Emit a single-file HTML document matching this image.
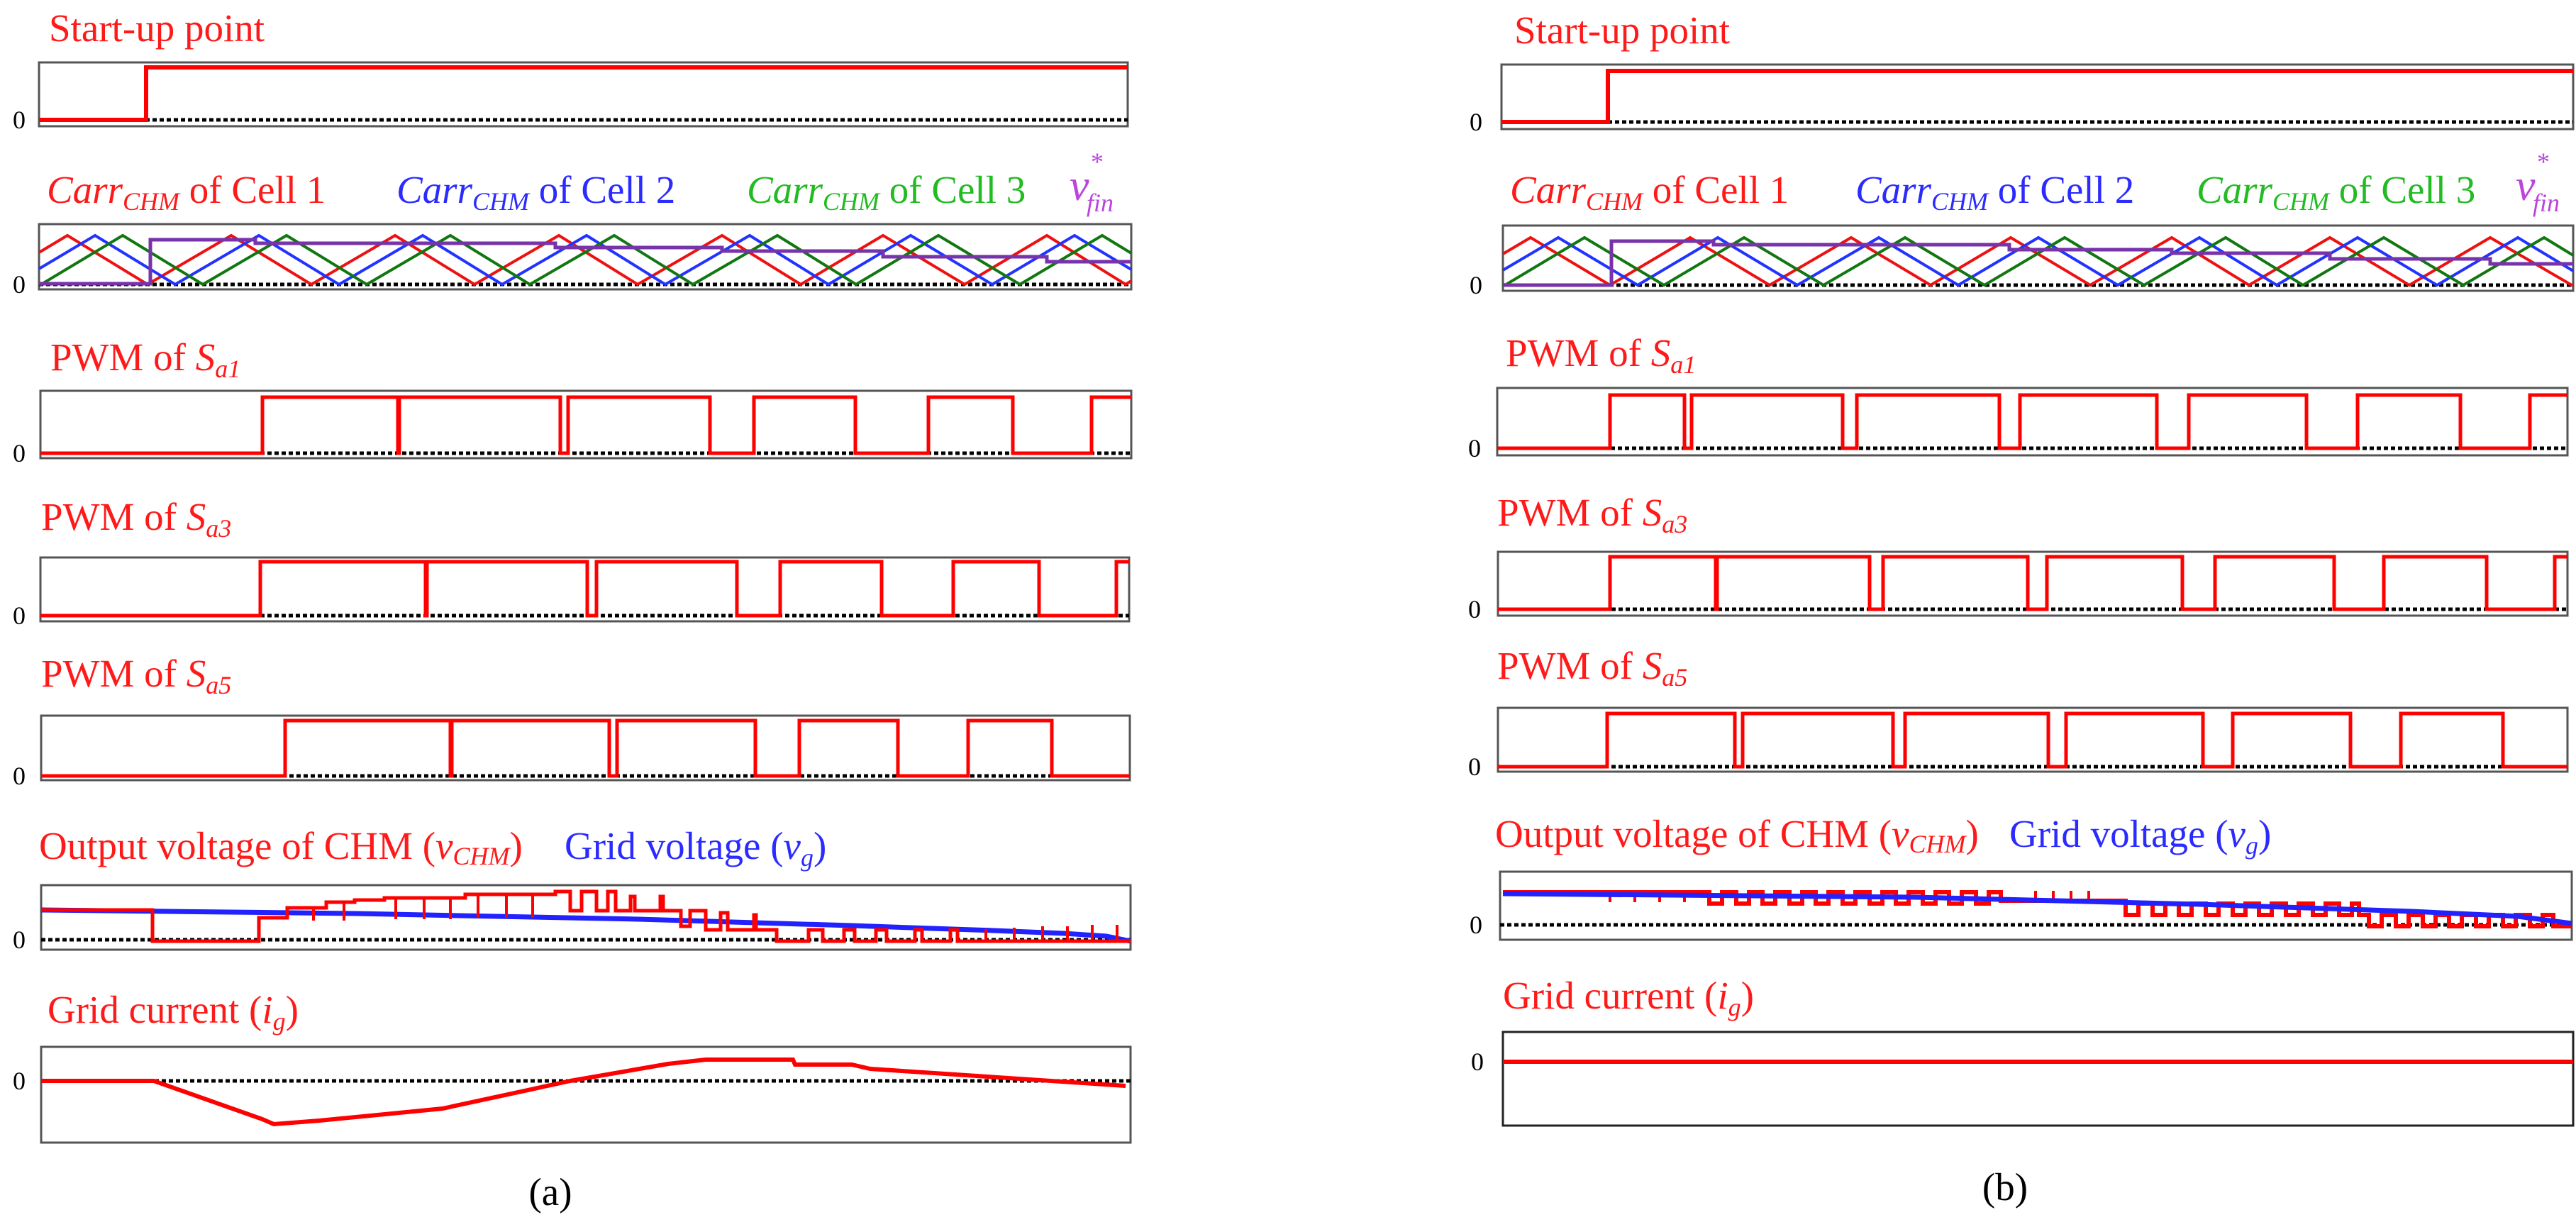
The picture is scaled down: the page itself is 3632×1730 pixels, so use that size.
<!DOCTYPE html>
<html><head><meta charset="utf-8"><style>
html,body{margin:0;padding:0;background:#fff;}
svg{display:block;}
text{font-family:"Liberation Serif",serif;}
</style></head><body>
<svg width="3632" height="1730" viewBox="0 0 3632 1730" xmlns="http://www.w3.org/2000/svg">
<g font-size="55" fill="#ff1a1a">
<text x="69" y="58">Start-up point</text>
<text x="66" y="286"><tspan font-style="italic">Carr</tspan><tspan font-style="italic" font-size="36" dy="10">CHM</tspan><tspan dy="-10"> of Cell 1</tspan></text>
<text x="559" y="286" fill="#2b2bff"><tspan font-style="italic">Carr</tspan><tspan font-style="italic" font-size="36" dy="10">CHM</tspan><tspan dy="-10"> of Cell 2</tspan></text>
<text x="1053" y="286" fill="#22bb22"><tspan font-style="italic">Carr</tspan><tspan font-style="italic" font-size="36" dy="10">CHM</tspan><tspan dy="-10"> of Cell 3</tspan></text>
<text x="1508" y="282" fill="#bb44dd" font-style="italic" font-size="62">v</text>
<text x="1538" y="240" fill="#bb44dd" font-size="36">*</text>
<text x="1532" y="298" fill="#bb44dd" font-style="italic" font-size="36">fin</text>
<text x="71" y="522">PWM of <tspan font-style="italic">S</tspan><tspan font-style="italic" font-size="36" dy="10">a1</tspan></text>
<text x="58" y="747">PWM of <tspan font-style="italic">S</tspan><tspan font-style="italic" font-size="36" dy="10">a3</tspan></text>
<text x="58" y="968">PWM of <tspan font-style="italic">S</tspan><tspan font-style="italic" font-size="36" dy="10">a5</tspan></text>
<text x="55" y="1211">Output voltage of CHM (<tspan font-style="italic">v</tspan><tspan font-style="italic" font-size="36" dy="8">CHM</tspan><tspan dy="-8">)</tspan></text>
<text x="796" y="1211" fill="#2b2bff">Grid voltage (<tspan font-style="italic">v</tspan><tspan font-style="italic" font-size="36" dy="10">g</tspan><tspan dy="-10">)</tspan></text>
<text x="67" y="1442">Grid current (<tspan font-style="italic">i</tspan><tspan font-style="italic" font-size="36" dy="10">g</tspan><tspan dy="-10">)</tspan></text>
<text x="2135" y="61">Start-up point</text>
<text x="2129" y="286"><tspan font-style="italic">Carr</tspan><tspan font-style="italic" font-size="36" dy="10">CHM</tspan><tspan dy="-10"> of Cell 1</tspan></text>
<text x="2616" y="286" fill="#2b2bff"><tspan font-style="italic">Carr</tspan><tspan font-style="italic" font-size="36" dy="10">CHM</tspan><tspan dy="-10"> of Cell 2</tspan></text>
<text x="3097" y="286" fill="#22bb22"><tspan font-style="italic">Carr</tspan><tspan font-style="italic" font-size="36" dy="10">CHM</tspan><tspan dy="-10"> of Cell 3</tspan></text>
<text x="3547" y="282" fill="#bb44dd" font-style="italic" font-size="62">v</text>
<text x="3577" y="240" fill="#bb44dd" font-size="36">*</text>
<text x="3571" y="298" fill="#bb44dd" font-style="italic" font-size="36">fin</text>
<text x="2123" y="516">PWM of <tspan font-style="italic">S</tspan><tspan font-style="italic" font-size="36" dy="10">a1</tspan></text>
<text x="2111" y="741">PWM of <tspan font-style="italic">S</tspan><tspan font-style="italic" font-size="36" dy="10">a3</tspan></text>
<text x="2111" y="957">PWM of <tspan font-style="italic">S</tspan><tspan font-style="italic" font-size="36" dy="10">a5</tspan></text>
<text x="2108" y="1194">Output voltage of CHM (<tspan font-style="italic">v</tspan><tspan font-style="italic" font-size="36" dy="8">CHM</tspan><tspan dy="-8">)</tspan></text>
<text x="2833" y="1194" fill="#2b2bff">Grid voltage (<tspan font-style="italic">v</tspan><tspan font-style="italic" font-size="36" dy="10">g</tspan><tspan dy="-10">)</tspan></text>
<text x="2119" y="1422">Grid current (<tspan font-style="italic">i</tspan><tspan font-style="italic" font-size="36" dy="10">g</tspan><tspan dy="-10">)</tspan></text>
</g>
<g font-size="55" fill="#000" text-anchor="middle">
<text x="776" y="1699">(a)</text>
<text x="2827" y="1692">(b)</text>
</g>
<g font-size="36" fill="#000">
<text x="18" y="181">0</text><text x="18" y="413">0</text><text x="18" y="651">0</text><text x="18" y="880">0</text><text x="18" y="1106">0</text><text x="18" y="1337">0</text><text x="18" y="1536">0</text>
<text x="2072" y="184">0</text><text x="2072" y="414">0</text><text x="2070" y="644">0</text><text x="2070" y="871">0</text><text x="2070" y="1093">0</text><text x="2072" y="1316">0</text><text x="2074" y="1509">0</text>
</g>
<g fill="none" stroke="#555" stroke-width="3">
<rect x="55" y="88" width="1535" height="90"/>
<rect x="55" y="316" width="1540" height="92"/>
<rect x="57" y="551" width="1538" height="95"/>
<rect x="57" y="786" width="1535" height="90"/>
<rect x="58" y="1009" width="1535" height="91"/>
<rect x="58" y="1248" width="1536" height="91"/>
<rect x="58" y="1476" width="1536" height="135"/>
<rect x="2117" y="91" width="1511" height="91"/>
<rect x="2119" y="318" width="1509" height="92"/>
<rect x="2111" y="547" width="1509" height="95"/>
<rect x="2112" y="778" width="1508" height="90"/>
<rect x="2112" y="998" width="1508" height="90"/>
<rect x="2115" y="1229" width="1511" height="96"/>
<rect x="2119" y="1455" width="1509" height="132" stroke="#222"/>
</g>
<g stroke="#000" stroke-width="5" stroke-dasharray="6 4">
<line x1="55" y1="169" x2="1590" y2="169"/><line x1="55" y1="401" x2="1595" y2="401"/><line x1="57" y1="639" x2="1595" y2="639"/><line x1="57" y1="868" x2="1592" y2="868"/><line x1="58" y1="1094" x2="1593" y2="1094"/><line x1="58" y1="1325" x2="1594" y2="1325"/><line x1="58" y1="1524" x2="1594" y2="1524"/>
<line x1="2117" y1="172" x2="3628" y2="172"/><line x1="2119" y1="402" x2="3628" y2="402"/><line x1="2111" y1="632" x2="3620" y2="632"/><line x1="2112" y1="859" x2="3620" y2="859"/><line x1="2112" y1="1081" x2="3620" y2="1081"/><line x1="2115" y1="1304" x2="3626" y2="1304"/>
</g>
<g fill="none" stroke-linejoin="miter">
<polyline stroke="#ff0000" stroke-width="6" points="55,169 206,169 206,95 1590,95"/>
<polyline stroke="#ee1111" stroke-width="4" points="55,356 95,332 208,401 326,332 439,401 557,332 669,401 788,332 899,401 1018,332 1129,401 1245,332 1360,401 1476,332 1587,401 1595,396"/>
<polyline stroke="#2233ff" stroke-width="4" points="55,379 134,332 247,401 365,332 478,401 596,332 708,401 827,332 938,401 1057,332 1168,401 1284,332 1399,401 1515,332 1595,380"/>
<polyline stroke="#117711" stroke-width="4" points="55,399 58,401 173,332 286,401 404,332 517,401 635,332 747,401 866,332 977,401 1096,332 1207,401 1323,332 1438,401 1554,332 1595,357"/>
<polyline stroke="#7733aa" stroke-width="5" points="55,400 212,400 212,338 360,338 360,343 783,343 783,349 1018,349 1018,354 1245,354 1245,362 1476,362 1476,369 1595,369"/>
<polyline stroke="#ff0000" stroke-width="5" points="57,639 370,639 370,560 561,560 561,639 563,639 563,560 790,560 790,639 801,639 801,560 1001,560 1001,639 1063,639 1063,560 1206,560 1206,639 1309,639 1309,560 1428,560 1428,639 1539,639 1539,560 1595,560"/>
<polyline stroke="#ff0000" stroke-width="5" points="57,868 367,868 367,792 600,792 600,868 602,868 602,792 828,792 828,868 841,868 841,792 1039,792 1039,868 1100,868 1100,792 1243,792 1243,868 1344,868 1344,792 1465,792 1465,868 1574,868 1574,792 1592,792"/>
<polyline stroke="#ff0000" stroke-width="5" points="58,1094 402,1094 402,1016 635,1016 635,1094 637,1094 637,1016 859,1016 859,1094 870,1094 870,1016 1065,1016 1065,1094 1127,1094 1127,1016 1266,1016 1266,1094 1365,1094 1365,1016 1483,1016 1483,1094 1593,1094"/>
<polyline stroke="#2222ff" stroke-width="7" points="58,1283 500,1288 900,1296 1200,1305 1400,1312 1500,1316 1560,1320 1594,1327"/>
<polyline stroke="#ff0000" stroke-width="5" points="58,1283 215,1283 215,1327 365,1327 365,1294 405,1294 405,1280 460,1280 460,1272 500,1272 500,1269 542,1269 542,1266 656,1266 656,1261 783,1261 783,1257 804,1257 804,1284 820,1284 820,1257 841,1257 841,1284 857,1284 857,1257 868,1257 868,1284 889,1284 889,1264 895,1264 895,1284 931,1284 931,1264 935,1264 935,1284 960,1284 960,1306 973,1306 973,1284 995,1284 995,1311 1016,1311 1016,1287 1026,1287 1026,1311 1063,1311 1063,1290 1066,1290 1066,1311 1095,1311 1095,1327 1140,1327 1140,1311 1160,1311 1160,1327 1190,1327 1190,1311 1205,1311 1205,1327 1235,1327 1235,1311 1250,1311 1250,1327 1290,1327 1290,1311 1300,1311 1300,1327 1340,1327 1340,1311 1350,1311 1350,1327 1594,1327"/>
<g stroke="#ff0000" stroke-width="4">
<line x1="442" y1="1280" x2="442" y2="1298"/><line x1="485" y1="1272" x2="485" y2="1298"/><line x1="558" y1="1266" x2="558" y2="1296"/><line x1="598" y1="1266" x2="598" y2="1296"/><line x1="635" y1="1266" x2="635" y2="1296"/><line x1="674" y1="1261" x2="674" y2="1294"/><line x1="714" y1="1261" x2="714" y2="1294"/><line x1="751" y1="1261" x2="751" y2="1294"/>
<line x1="1390" y1="1327" x2="1390" y2="1310"/><line x1="1430" y1="1327" x2="1430" y2="1308"/><line x1="1470" y1="1327" x2="1470" y2="1306"/><line x1="1505" y1="1327" x2="1505" y2="1306"/><line x1="1540" y1="1327" x2="1540" y2="1304"/><line x1="1575" y1="1327" x2="1575" y2="1304"/>
</g>
<polyline stroke="#ff0000" stroke-width="6" points="58,1524 217,1524 370,1578 386,1585 450,1580 624,1563 804,1524 942,1500 995,1494 1118,1494 1121,1501 1201,1501 1227,1507 1587,1531"/>
</g>
<g fill="none">
<polyline stroke="#ff0000" stroke-width="6" points="2117,172 2267,172 2267,100 3628,100"/>
<polyline stroke="#ee1111" stroke-width="4" points="2119,358 2158,335 2270,402 2383,335 2495,402 2610,335 2722,402 2835,335 2947,402 3062,335 3171,402 3285,335 3397,402 3511,335 3626,402 3628,401"/>
<polyline stroke="#2233ff" stroke-width="4" points="2119,381 2197,335 2309,402 2422,335 2534,402 2649,335 2761,402 2874,335 2986,402 3101,335 3210,402 3324,335 3436,402 3550,335 3628,382"/>
<polyline stroke="#117711" stroke-width="4" points="2119,400 2122,402 2234,335 2346,402 2459,335 2571,402 2686,335 2798,402 2911,335 3023,402 3138,335 3247,402 3361,335 3473,402 3587,335 3628,360"/>
<polyline stroke="#7733aa" stroke-width="5" points="2119,402 2272,402 2272,340 2416,340 2416,345 2833,345 2833,352 3062,352 3062,357 3285,357 3285,365 3511,365 3511,372 3628,372"/>
<polyline stroke="#ff0000" stroke-width="5" points="2111,632 2270,632 2270,557 2375,557 2375,632 2385,632 2385,557 2598,557 2598,632 2618,632 2618,557 2819,557 2819,632 2848,632 2848,557 3041,557 3041,632 3086,632 3086,557 3252,557 3252,632 3324,632 3324,557 3469,557 3469,632 3567,632 3567,557 3620,557"/>
<polyline stroke="#ff0000" stroke-width="5" points="2112,859 2270,859 2270,785 2419,785 2419,859 2421,859 2421,785 2636,785 2636,859 2655,859 2655,785 2859,785 2859,859 2886,859 2886,785 3077,785 3077,859 3123,859 3123,785 3291,785 3291,859 3361,859 3361,785 3506,785 3506,859 3602,859 3602,785 3620,785"/>
<polyline stroke="#ff0000" stroke-width="5" points="2112,1081 2266,1081 2266,1006 2446,1006 2446,1081 2457,1081 2457,1006 2669,1006 2669,1081 2686,1081 2686,1006 2888,1006 2888,1081 2913,1081 2913,1006 3106,1006 3106,1081 3148,1081 3148,1006 3314,1006 3314,1081 3385,1081 3385,1006 3529,1006 3529,1081 3620,1081"/>
<polyline stroke="#ff0000" stroke-width="6" points="2119,1258 2410,1258 2410,1274 2428,1274 2428,1258 2448,1258 2448,1274 2466,1274 2466,1258 2485,1258 2485,1274 2503,1274 2503,1258 2523,1258 2523,1274 2541,1274 2541,1258 2560,1258 2560,1274 2578,1274 2578,1258 2598,1258 2598,1274 2616,1274 2616,1258 2636,1258 2636,1274 2654,1274 2654,1258 2673,1258 2673,1274 2691,1274 2691,1258 2711,1258 2711,1274 2729,1274 2729,1258 2748,1258 2748,1274 2766,1274 2766,1258 2786,1258 2786,1274 2804,1274 2804,1258 2821,1258 2821,1270 2997,1270 2997,1290 3015,1290 3015,1274 3035,1274 3035,1290 3053,1290 3053,1274 3072,1274 3072,1290 3090,1290 3090,1274 3110,1274 3110,1290 3128,1290 3128,1274 3148,1274 3148,1290 3166,1290 3166,1274 3185,1274 3185,1290 3203,1290 3203,1274 3223,1274 3223,1290 3241,1290 3241,1274 3261,1274 3261,1290 3279,1290 3279,1274 3298,1274 3298,1290 3316,1290 3316,1274 3326,1274 3326,1290 3340,1290 3340,1306 3358,1306 3358,1290 3378,1290 3378,1306 3396,1306 3396,1290 3416,1290 3416,1306 3434,1306 3434,1290 3453,1290 3453,1306 3471,1306 3471,1290 3491,1290 3491,1306 3509,1306 3509,1290 3529,1290 3529,1306 3547,1306 3547,1290 3567,1290 3567,1306 3585,1306 3585,1290 3600,1290 3600,1306 3626,1306"/>
<g stroke="#ff0000" stroke-width="4">
<line x1="2270" y1="1258" x2="2270" y2="1272"/><line x1="2305" y1="1258" x2="2305" y2="1272"/><line x1="2340" y1="1258" x2="2340" y2="1272"/><line x1="2375" y1="1258" x2="2375" y2="1272"/>
<line x1="2870" y1="1270" x2="2870" y2="1256"/><line x1="2895" y1="1270" x2="2895" y2="1256"/><line x1="2920" y1="1270" x2="2920" y2="1256"/><line x1="2945" y1="1270" x2="2945" y2="1256"/>
</g>
<polyline stroke="#2222ff" stroke-width="7" points="2119,1260 2700,1265 3100,1275 3400,1285 3550,1292 3626,1302"/>
<line x1="2119" y1="1497" x2="3628" y2="1497" stroke="#ff0000" stroke-width="6"/>
</g>
</svg>
</body></html>
